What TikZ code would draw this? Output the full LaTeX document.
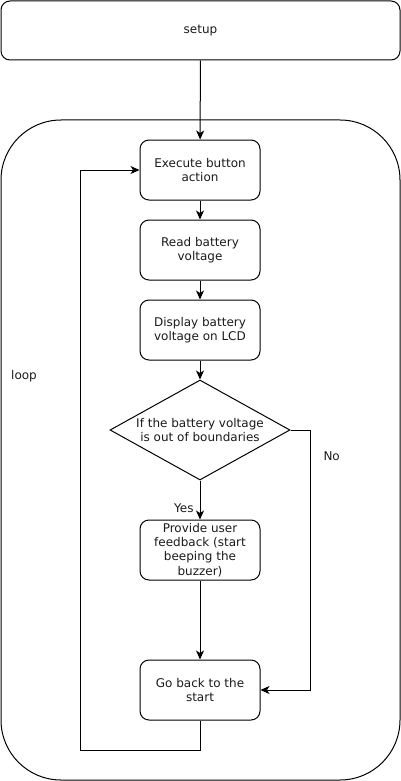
\documentclass[tikz,border=0pt]{standalone}
\usepackage{fontspec}
\setmainfont{DejaVu Sans}
\usetikzlibrary{positioning,shapes.geometric,arrows.meta}
\definecolor{textcol}{HTML}{1A1A1A}
\begin{document}
\begin{tikzpicture}[x=1pt,y=-1pt,line width=1pt,
  font=\fontsize{12}{14.2}\selectfont,
  stepbox/.style={draw,rounded corners=9pt,minimum width=120pt,minimum height=60pt,
    align=center,text=textcol,inner sep=2pt},
  decision/.style={draw,diamond,aspect=1.8,minimum width=180pt,minimum height=100pt,
    align=center,text=textcol,inner sep=0pt},
  arr/.style={-{Stealth[length=9pt,width=8pt,inset=2.5pt]}},
  lbl/.style={text=textcol,inner sep=1pt}]
  \useasboundingbox (0,0) rectangle (401,781);
  % container of the loop
  \draw[rounded corners=60pt] (1,120) rectangle (400,780);
  \node[lbl] (loop) at (24,376) {loop};

  \node[stepbox,minimum width=399pt,minimum height=59pt] (setup) at (200.5,30.5) {setup};
  \node[stepbox] (exec) at (200,170) {Execute button\\action};
  \node[stepbox] (read) at (200,250) {Read battery\\voltage};
  \node[stepbox] (disp) at (200,330) {Display battery\\voltage on LCD};
  \node[decision] (cond) at (200,430) {If the battery voltage\\is out of boundaries};
  \node[stepbox] (feed) at (200,550) {Provide user\\feedback (start\\beeping the\\buzzer)};
  \node[stepbox] (back) at (200,690) {Go back to the\\start};

  \coordinate (nocorner) at (310,430);
  \coordinate (turn) at (80,750);

  \draw[arr] (setup) to (exec);
  \draw[arr] (exec) to (read);
  \draw[arr] (read) to (disp);
  \draw[arr] (disp) to (cond);
  \draw[arr] (cond) to node[lbl,pos=0.72,left=5pt]{Yes}(feed);
  \draw[arr] (feed) to (back);
  \draw[arr] (cond.east) -- (nocorner) |- node[lbl,pos=0.05,right=12pt]{No}(back.east);
  \draw[arr] (back.south) |- (turn) |- (exec.west);
\end{tikzpicture}
\end{document}
